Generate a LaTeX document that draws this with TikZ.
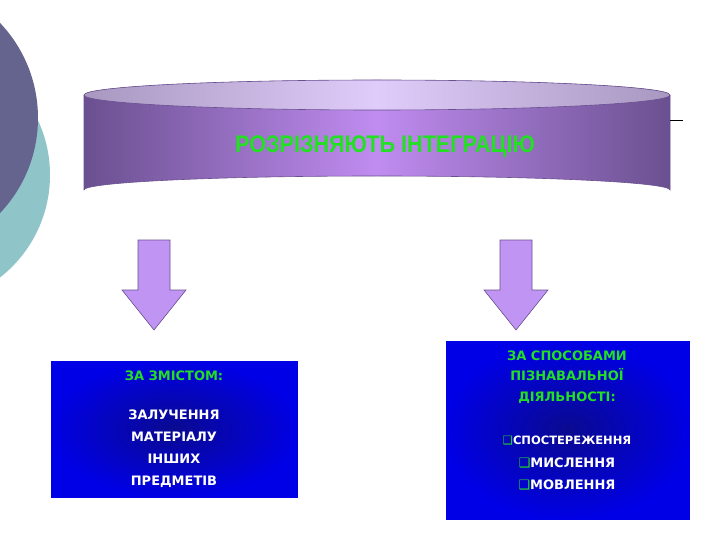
\documentclass[tikz,border=0pt]{standalone}
\usepackage{fontspec}
\setmainfont{DejaVu Sans}
\newfontfamily\headf{Liberation Sans}
\definecolor{cylside}{HTML}{C08CF0}
\definecolor{cyldark}{HTML}{6A5090}
\definecolor{cyltop}{HTML}{E0CCFA}
\definecolor{cyltopd}{HTML}{A898C0}
\definecolor{arrowf}{HTML}{C094F2}
\definecolor{boxblue}{HTML}{0000E6}
\definecolor{boxdark}{HTML}{0A0A90}
\definecolor{txtgreen}{HTML}{22E022}
\definecolor{circA}{HTML}{65648F}
\definecolor{circB}{HTML}{8FC5C8}
\tikzset{
  bigarrow/.style={fill=arrowf,draw=cyldark,line width=0.6pt},
  bluebox/.style={inner color=boxdark,outer color=boxblue,draw=white},
  gtxt/.style={text=txtgreen,font=\bfseries\fontsize{13}{15}\selectfont,align=center},
  wtxt/.style={text=white,font=\bfseries\fontsize{13}{15}\selectfont,align=center}
}
\begin{document}
\begin{tikzpicture}[x=1pt,y=-1pt]
\useasboundingbox (0,0) rectangle (720,540);
\fill[white] (0,0) rectangle (720,540);
\begin{scope}
\clip (0,0) rectangle (720,540);
\fill[circB] (-80,175) circle (130);
\fill[circA] (-100,118) circle (138);
\end{scope}
% cylinder
\shade[left color=cyldark,right color=cyldark,middle color=cylside]
  (84,95) -- (84,190) arc[start angle=180,end angle=360,x radius=293,y radius=14] -- (670,95) arc[start angle=0,end angle=-180,x radius=293,y radius=15] -- cycle;
\draw[cyldark,line width=0.6pt] (84,95) -- (84,190) arc[start angle=180,end angle=360,x radius=293,y radius=14] -- (670,95);
\shade[left color=cyltopd,right color=cyltopd,middle color=cyltop,draw=cyldark,line width=0.6pt]
  (377,95) ellipse[x radius=293,y radius=15];
\node[text=txtgreen,font=\headf\bfseries\fontsize{24}{26}\selectfont,xscale=0.9] (title) at (385,147) {РОЗРІЗНЯЮТЬ ІНТЕГРАЦІЮ};
\coordinate (la) at (670,120);
\coordinate (lb) at (683,120);
\draw[black,line width=0.5pt] (la) -- (lb);
% arrows
\path[bigarrow] (138,240) -- (170,240) -- (170,290) -- (186,290) -- (154,330) -- (122,290) -- (138,290) -- cycle;
\path[bigarrow] (500,240) -- (532,240) -- (532,290) -- (548,290) -- (516,330) -- (484,290) -- (500,290) -- cycle;
% boxes
\path[bluebox] (50,360) rectangle (298,498);
\path[bluebox] (445,340) rectangle (690,520);
\node[gtxt] (l1) at (174,376) {ЗА ЗМІСТОМ:};
\node[wtxt,font=\bfseries\fontsize{13}{22}\selectfont] (l2) at (174,449) {ЗАЛУЧЕННЯ\\МАТЕРІАЛУ\\ІНШИХ\\ПРЕДМЕТІВ};
\node[gtxt,font=\bfseries\fontsize{13}{20.5}\selectfont] (r1) at (567,377) {ЗА СПОСОБАМИ\\ПІЗНАВАЛЬНОЇ\\ДІЯЛЬНОСТІ:};
\node[wtxt,font=\bfseries\fontsize{11.5}{13}\selectfont] (r2) at (567,441) {\textcolor{txtgreen}{❑}СПОСТЕРЕЖЕННЯ};
\node[wtxt] (r3) at (567,463) {\textcolor{txtgreen}{❑}МИСЛЕННЯ};
\node[wtxt] (r4) at (567,485) {\textcolor{txtgreen}{❑}МОВЛЕННЯ};
\end{tikzpicture}
\end{document}
